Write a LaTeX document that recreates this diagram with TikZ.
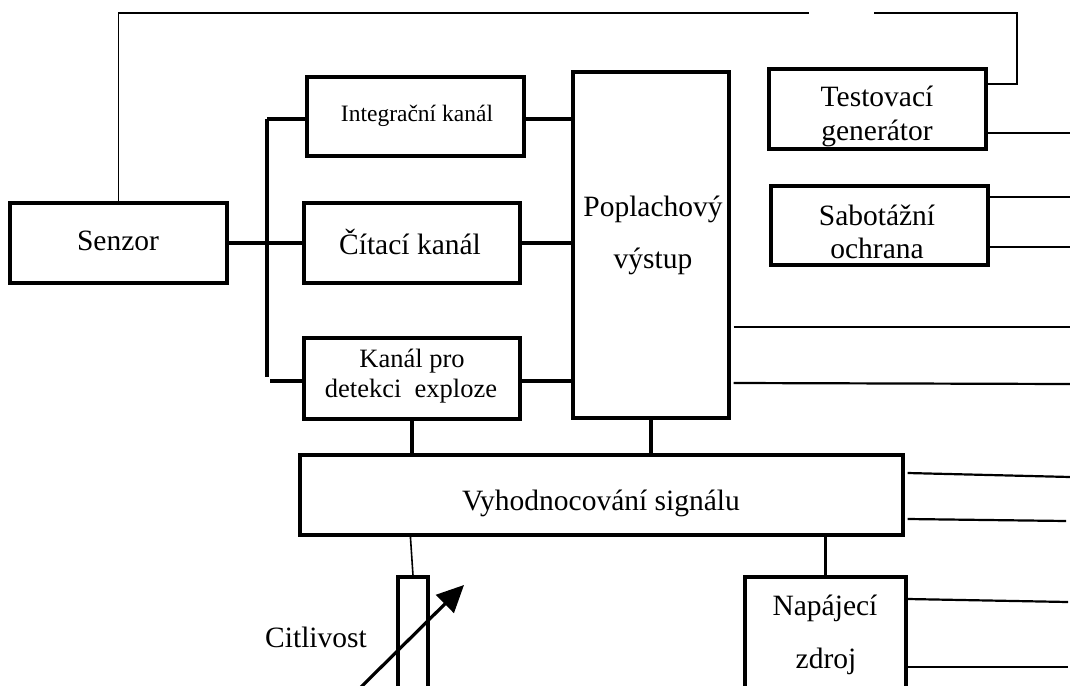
\documentclass[tikz,border=0pt]{standalone}
\usepackage{fontspec}
\setmainfont{Liberation Serif}
\usetikzlibrary{arrows.meta,calc}
\begin{document}
\begin{tikzpicture}[x=1pt,y=-1pt,
  blk/.style={draw=black, line width=3.2pt, inner sep=0pt, fill=none},
  txt/.style={anchor=base, inner sep=0pt, font=\fontsize{29.5}{34}\selectfont},
  wthick/.style={line width=3.2pt},
  wmed/.style={line width=2.2pt},
  wthin/.style={line width=1.6pt}]
\useasboundingbox (0,0) rectangle (1070,685);
% boxes
\node[blk, minimum width=217pt, minimum height=80pt] (sen) at (118.5,243) {};
\node[blk, minimum width=217pt, minimum height=79pt] (int) at (415.5,116.5) {};
\node[blk, minimum width=216pt, minimum height=80pt] (cit) at (412,243) {};
\node[blk, minimum width=216pt, minimum height=81pt] (kan) at (412,378.5) {};
\node[blk, minimum width=156pt, minimum height=346pt] (pop) at (651,245) {};
\node[blk, minimum width=217pt, minimum height=80pt] (tg) at (877.5,109) {};
\node[blk, minimum width=217pt, minimum height=79pt] (sab) at (879.5,225.5) {};
\node[blk, minimum width=603pt, minimum height=80pt] (vyh) at (601.5,495) {};
\node[blk, minimum width=30pt, minimum height=123pt] (res) at (413,638.5) {};
\node[blk, minimum width=161pt, minimum height=123pt] (nap) at (825.5,638.5) {};
% texts
\node[txt] (tsen) at (118,250) {Senzor};
\node[txt, font=\fontsize{23.5}{28}\selectfont] (tint) at (417,121) {Integrační kanál};
\node[txt] (tcit) at (410,254) {Čítací kanál};
\node[txt, font=\fontsize{26.5}{30}\selectfont] (tkan1) at (412,367) {Kanál pro};
\node[txt, font=\fontsize{26.5}{30}\selectfont] (tkan2) at (411,397) {detekci\ \ exploze};
\node[txt] (tpop1) at (653,216) {Poplachový};
\node[txt] (tpop2) at (653,268) {výstup};
\node[txt] (ttg1) at (877,106) {Testovací};
\node[txt] (ttg2) at (877,140) {generátor};
\node[txt] (tsab1) at (877,225) {Sabotážní};
\node[txt] (tsab2) at (877,258) {ochrana};
\node[txt] (tvyh) at (601,510) {Vyhodnocování signálu};
\node[txt] (tnap1) at (825,615) {Napájecí};
\node[txt] (tnap2) at (826,668) {zdroj};
\node[txt] (tcit2) at (316,647) {Citlivost};
% coordinates
\coordinate (g1) at (809,13);
\coordinate (g2) at (874,13);
\coordinate (c2) at (1017,84);
\coordinate (bt) at (267,119);
\coordinate (bb) at (267,377);
\coordinate (bs) at (270,381);
\coordinate (rtg) at (1070,133);
\coordinate (rs1) at (1070,197);
\coordinate (rs2) at (1070,247);
\coordinate (rp1) at (1070,327);
\coordinate (rp2) at (1070,384);
\coordinate (rv1) at (1070,477);
\coordinate (rv2) at (1066,521);
\coordinate (rn1) at (1068,602);
\coordinate (rn2) at (1068,667);
\coordinate (a0) at (356,692);
\coordinate (a1) at (464,585);
% top loop
\draw[wthin] (sen.north) -- (sen.north |- g1) -- (g1);
\draw[wmed] (g2) -| (c2) -- (c2 -| tg.east);
% bus
\draw[wthick] (bt) -- (bb);
\draw[wthick] (bt) -- (int.west |- bt);
\draw[wthick] (sen.east) -- (cit.west);
\draw[wthick] (bs) -- (kan.west |- bs);
% to alarm output
\draw[wthick] (int.east |- bt) -- (pop.west |- bt);
\draw[wthick] (cit.east) -- (pop.west |- cit.east);
\draw[wthick] (kan.east |- bs) -- (pop.west |- bs);
% to evaluation
\draw[wthick] (kan.south) -- (kan.south |- vyh.north);
\draw[wthick] (pop.south) -- (pop.south |- vyh.north);
\draw[wthick] (nap.north) -- (nap.north |- vyh.south);
\draw[wthin] ($(vyh.south west)+(112,0)$) -- (res.north);
% right lines
\draw[wmed] (tg.east |- rtg) -- (rtg);
\draw[wmed] (sab.east |- rs1) -- (rs1);
\draw[wmed] (sab.east |- rs2) -- (rs2);
\draw[wmed] ($(pop.east |- rp1)+(3,0)$) -- (rp1);
\draw[wmed] ($(pop.east |- rp2)+(3,-1)$) -- (rp2);
\draw[wmed] ($(vyh.east)+(3,-22)$) -- (rv1);
\draw[wmed] ($(vyh.east)+(3,24)$) -- (rv2);
\draw[wmed] ($(nap.east |- rn1)+(0,-3)$) -- (rn1);
\draw[wmed] (nap.east |- rn2) -- (rn2);
% sensitivity arrow
\draw[line width=3.2pt, -{Triangle[length=27pt,width=25pt]}] (a0) -- (a1);
\end{tikzpicture}
\end{document}
